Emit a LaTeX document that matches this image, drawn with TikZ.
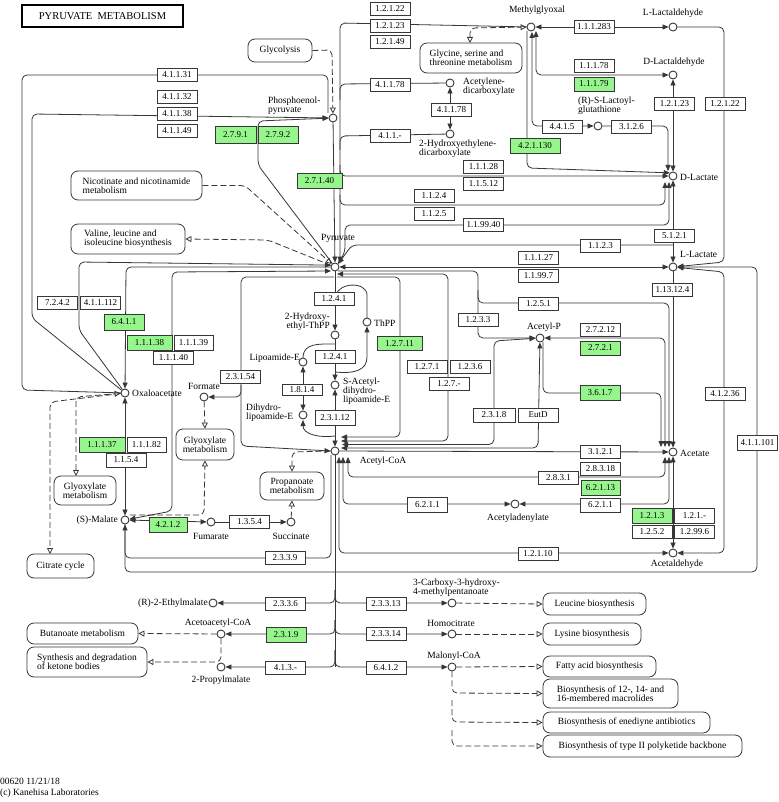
\documentclass[tikz,border=0pt]{standalone}
\usepackage{fontspec}
\setmainfont{Liberation Serif}
\usetikzlibrary{arrows.meta}
\pgfdeclarelayer{bg}
\pgfsetlayers{bg,main}
\definecolor{lc}{RGB}{55,55,55}
\definecolor{kgreen}{RGB}{150,245,140}
\newcommand{\fs}{\fontsize{9.5}{9}\selectfont}
\newcommand{\fe}{\fontsize{9}{9}\selectfont}
\begin{document}
\begin{tikzpicture}[x=1pt,y=-1pt,
  ec/.style={draw=lc, fill=white, minimum width=40pt, minimum height=13pt, inner sep=0pt, font=\fe, line width=0.8pt},
  ecg/.style={ec, fill=kgreen},
  cpd/.style={circle, draw=lc, fill=white, minimum size=8pt, inner sep=0pt, line width=0.9pt},
  lb/.style={inner sep=0pt, font=\fs, align=left},
  mapb/.style={draw=lc, rounded corners=7pt, fill=white, inner sep=2pt, font=\fs, align=center, line width=0.8pt},
  ln/.style={draw=lc, line width=0.8pt, rounded corners=5pt},
  dsh/.style={dash pattern=on 6pt off 3pt},
  ar/.style={-{Triangle[length=6pt,width=5pt]}},
  dar/.style={{Triangle[length=6pt,width=5pt]}-{Triangle[length=6pt,width=5pt]}},
  oar/.style={-{Triangle[open,length=6pt,width=6pt]}},
  doar/.style={{Triangle[open,length=6pt,width=6pt]}-{Triangle[open,length=6pt,width=6pt]}}
]
\useasboundingbox (0,0) rectangle (778,802);
\begin{pgfonlayer}{bg}
\fill[white] (0,0) rectangle (778,802);
\end{pgfonlayer}

% title
\node[draw=black, line width=1.6pt, minimum width=161pt, minimum height=22pt, inner sep=0pt, font=\fontsize{10.5}{11}\selectfont] (title) at (102.5,16) {PYRUVATE~~METABOLISM};

% compounds
\node[cpd] (pep) at (333,118) {};
\node[cpd] (pyr) at (335,267) {};
\node[cpd] (mgo) at (531,27) {};
\node[cpd] (acdc) at (450,83) {};
\node[cpd] (hedc) at (450,134) {};
\node[cpd] (llald) at (673,27) {};
\node[cpd] (dlald) at (673,75) {};
\node[cpd] (lgsh) at (598,126) {};
\node[cpd] (dlac) at (673,176) {};
\node[cpd] (llac) at (673,267) {};
\node[cpd] (acp) at (540,338) {};
\node[cpd] (ace) at (673,452) {};
\node[cpd] (acad) at (515,504) {};
\node[cpd] (acald) at (673,553) {};
\node[cpd] (hthpp) at (335,335) {};
\node[cpd] (thpp) at (367,322) {};
\node[cpd] (lipo) at (303,362) {};
\node[cpd] (sacet) at (335,385) {};
\node[cpd] (dihy) at (303,415) {};
\node[cpd] (accoa) at (335,451) {};
\node[cpd] (succ) at (291,522) {};
\node[cpd] (fum) at (211,522) {};
\node[cpd] (mal) at (125,520) {};
\node[cpd] (oaa) at (125,393) {};
\node[cpd] (form) at (204,397) {};
\node[cpd] (ethm) at (213,603) {};
\node[cpd] (aacoa) at (221,634) {};
\node[cpd] (prom) at (221,667) {};
\node[cpd] (cmp) at (452,603) {};
\node[cpd] (homo) at (452,634) {};
\node[cpd] (mcoa) at (452,667) {};

% compound labels
\node[lb, anchor=north west] (lpep) at (268,97) {Phosphoenol-\\pyruvate};
\node[lb] (lpyr) at (338,238) {Pyruvate};
\node[lb] (lmgo) at (537,10) {Methylglyoxal};
\node[lb, anchor=north west] (lacdc) at (463,78) {Acetylene-\\dicarboxylate};
\node[lb, anchor=north west] (lhedc) at (419,140) {2-Hydroxyethylene-\\dicarboxylate};
\node[lb] (lllald) at (673,13) {L-Lactaldehyde};
\node[lb] (ldlald) at (674,62) {D-Lactaldehyde};
\node[lb, anchor=north west] (llgsh) at (578,97) {(R)-S-Lactoyl-\\glutathione};
\node[lb, anchor=west] (ldlac) at (680,177) {D-Lactate};
\node[lb, anchor=west] (lllac) at (680,254) {L-Lactate};
\node[lb] (lacp) at (544,327) {Acetyl-P};
\node[lb, anchor=west] (lace) at (680,453) {Acetate};
\node[lb] (lacad) at (518,518) {Acetyladenylate};
\node[lb] (lacald) at (677,564) {Acetaldehyde};
\node[lb, anchor=east, align=right] (lhthpp) at (330,322) {2-Hydroxy-\\ethyl-ThPP};
\node[lb, anchor=west] (lthpp) at (374,323) {ThPP};
\node[lb, anchor=east] (llipo) at (300,358) {Lipoamide-E};
\node[lb, anchor=north west] (lsacet) at (343,378) {S-Acetyl-\\dihydro-\\lipoamide-E};
\node[lb, anchor=north west] (ldihy) at (246,404) {Dihydro-\\lipoamide-E};
\node[lb] (laccoa) at (383,461) {Acetyl-CoA};
\node[lb] (lsucc) at (291,536) {Succinate};
\node[lb] (lfum) at (211,536) {Fumarate};
\node[lb, anchor=east] (lmal) at (118,520) {(S)-Malate};
\node[lb, anchor=west] (loaa) at (132,393) {Oxaloacetate};
\node[lb] (lform) at (204,386) {Formate};
\node[lb, anchor=east] (lethm) at (208,603) {(R)-2-Ethylmalate};
\node[lb] (laacoa) at (218,623) {Acetoacetyl-CoA};
\node[lb] (lprom) at (221,680) {2-Propylmalate};
\node[lb, anchor=north west] (lcmp) at (413,579) {3-Carboxy-3-hydroxy-\\4-methylpentanoate};
\node[lb] (lhomo) at (451,623) {Homocitrate};
\node[lb] (lmcoa) at (454,656) {Malonyl-CoA};

% enzymes
\node[ec] (e41131) at (177,75) {4.1.1.31};
\node[ec] (e41132) at (177,97) {4.1.1.32};
\node[ec] (e41138) at (177,114) {4.1.1.38};
\node[ec] (e41149) at (177,131) {4.1.1.49};
\node[ecg, minimum width=41pt, minimum height=17pt] (e2791) at (235.5,134.5) {2.7.9.1};
\node[ecg, minimum width=40pt, minimum height=17pt] (e2792) at (278,134.5) {2.7.9.2};
\node[ecg, minimum width=45pt, minimum height=15pt] (e27140) at (319.5,180.5) {2.7.1.40};
\node[ec] (e12122) at (390,8.5) {1.2.1.22};
\node[ec] (e12123) at (390,25.5) {1.2.1.23};
\node[ec] (e12149) at (390,42) {1.2.1.49};
\node[ec] (e41178a) at (390,84.5) {4.1.1.78};
\node[ec] (e41178b) at (451.5,110) {4.1.1.78};
\node[ec] (e411x) at (390,136) {4.1.1.-};
\node[ec] (e111283) at (594,26.5) {1.1.1.283};
\node[ec] (e11178) at (594,66) {1.1.1.78};
\node[ecg, minimum height=14pt] (e11179) at (594,84) {1.1.1.79};
\node[ec] (e12123b) at (674.5,103.5) {1.2.1.23};
\node[ec] (e12122b) at (725,103.5) {1.2.1.22};
\node[ec] (e4415) at (562,126.5) {4.4.1.5};
\node[ec] (e3126) at (631.5,126.5) {3.1.2.6};
\node[ecg, minimum width=50pt, minimum height=15pt] (e421130) at (535,145.5) {4.2.1.130};
\node[ec] (e11128) at (483.5,166.5) {1.1.1.28};
\node[ec] (e11512) at (483.5,184) {1.1.5.12};
\node[ec] (e1124) at (434,196) {1.1.2.4};
\node[ec] (e1125) at (434,214) {1.1.2.5};
\node[ec] (e119940) at (483.5,225) {1.1.99.40};
\node[ec] (e1123) at (600.5,245.5) {1.1.2.3};
\node[ec] (e51121) at (674.5,236) {5.1.2.1};
\node[ec] (e11127) at (538.5,258) {1.1.1.27};
\node[ec] (e11997) at (538.5,276) {1.1.99.7};
\node[ec] (e131224) at (672.5,290) {1.13.12.4};
\node[ec] (e1251) at (538.5,303.5) {1.2.5.1};
\node[ec] (e1233) at (478,320) {1.2.3.3};
\node[ec] (e27212) at (600.5,329.5) {2.7.2.12};
\node[ecg, minimum height=14pt] (e2721) at (600.5,348) {2.7.2.1};
\node[ec] (e1241a) at (334,299) {1.2.4.1};
\node[ec] (e1241b) at (335,356.5) {1.2.4.1};
\node[ecg, minimum width=45pt, minimum height=14pt] (e12711) at (399.5,343.5) {1.2.7.11};
\node[ec] (e1271) at (427,367) {1.2.7.1};
\node[ec] (e1236) at (470,367) {1.2.3.6};
\node[ec] (e127x) at (449,384) {1.2.7.-};
\node[ec, minimum width=42pt, minimum height=14pt] (e2318) at (494,415) {2.3.1.8};
\node[ec, minimum height=14pt] (eEutD) at (538,415) {EutD};
\node[ecg, minimum height=15pt] (e3617) at (600,392.5) {3.6.1.7};
\node[ec] (e41236) at (725,393.5) {4.1.2.36};
\node[ec, minimum height=15pt] (e411101) at (757.5,442.5) {4.1.1.101};
\node[ec] (e3121) at (600.5,451.5) {3.1.2.1};
\node[ec] (e28318) at (600.5,469) {2.8.3.18};
\node[ecg, minimum width=39pt, minimum height=15pt] (e62113) at (600.5,487.5) {6.2.1.13};
\node[ec] (e2831) at (558.5,477.5) {2.8.3.1};
\node[ec, minimum height=14pt] (e6211b) at (600.5,505) {6.2.1.1};
\node[ec, minimum height=15pt] (e6211a) at (427.5,504.5) {6.2.1.1};
\node[ecg, minimum height=15pt] (e1213) at (652,515.5) {1.2.1.3};
\node[ec, minimum height=15pt] (e121x) at (694.5,515.5) {1.2.1.-};
\node[ec] (e1252) at (652,531.5) {1.2.5.2};
\node[ec] (e12996) at (694.5,531.5) {1.2.99.6};
\node[ec] (e12110) at (538,553.5) {1.2.1.10};
\node[ec] (e7242) at (57.5,302.5) {7.2.4.2};
\node[ec] (e411112) at (100.5,302.5) {4.1.1.112};
\node[ecg, minimum height=16pt] (e6411) at (124,322) {6.4.1.1};
\node[ecg, minimum width=45pt, minimum height=15pt] (e11138) at (149.5,342.5) {1.1.1.38};
\node[ec, minimum width=39pt, minimum height=15pt] (e11139) at (193.5,342.5) {1.1.1.39};
\node[ec] (e11140) at (173.5,357.5) {1.1.1.40};
\node[ec] (e23154) at (240.5,376.5) {2.3.1.54};
\node[ec, minimum height=11pt] (e1814) at (302,389.5) {1.8.1.4};
\node[ec, minimum height=15pt] (e23112) at (335,417.5) {2.3.1.12};
\node[ecg, minimum width=46pt, minimum height=15pt] (e11137) at (102,444.5) {1.1.1.37};
\node[ec, minimum width=39pt, minimum height=15pt] (e11182) at (146.5,444.5) {1.1.1.82};
\node[ec, minimum height=14pt] (e1154) at (126,460) {1.1.5.4};
\node[ecg, minimum width=38pt, minimum height=15pt] (e4212) at (168,524.5) {4.2.1.2};
\node[ec] (e1354) at (249.5,521.5) {1.3.5.4};
\node[ec] (e2339) at (285,558) {2.3.3.9};
\node[ec] (e2336) at (285.5,603.5) {2.3.3.6};
\node[ecg, minimum height=15pt] (e2319) at (286,634.5) {2.3.1.9};
\node[ec] (e413x) at (285.5,667.5) {4.1.3.-};
\node[ec] (e23313) at (386,603.5) {2.3.3.13};
\node[ec] (e23314) at (386,633.5) {2.3.3.14};
\node[ec] (e6412) at (386,667.5) {6.4.1.2};

% maps
\node[mapb, minimum width=64pt, minimum height=23pt] (glyc) at (280,50.5) {Glycolysis};
\node[mapb, minimum width=102pt, minimum height=30pt, align=left] (glyser) at (471,58) {Glycine, serine and\\threonine metabolism};
\node[mapb, minimum width=131pt, minimum height=29pt, align=left] (nic) at (136.5,185.5) {Nicotinate and nicotinamide\\metabolism};
\node[mapb, minimum width=114pt, minimum height=30pt, align=left] (val) at (128,239) {Valine, leucine and\\isoleucine biosynthesis};
\node[mapb, minimum width=64pt, minimum height=28pt] (prop) at (292,486) {Propanoate\\metabolism};
\node[mapb, minimum width=58pt, minimum height=31pt] (glyM) at (205,444.5) {Glyoxylate\\metabolism};
\node[mapb, minimum width=62pt, minimum height=29pt] (glyL) at (85,490.5) {Glyoxylate\\metabolism};
\node[mapb, minimum width=67pt, minimum height=24pt] (cit) at (60.5,566) {Citrate cycle};
\node[mapb, minimum width=111pt, minimum height=21pt] (but) at (82.5,633.5) {Butanoate metabolism};
\node[mapb, minimum width=120pt, minimum height=30pt, align=left] (ket) at (87,662) {Synthesis and degradation\\of ketone bodies};
\node[mapb, minimum width=103pt, minimum height=22pt] (leu) at (594.5,604) {Leucine biosynthesis};
\node[mapb, minimum width=98pt, minimum height=22pt] (lys) at (592,634) {Lysine biosynthesis};
\node[mapb, minimum width=113pt, minimum height=21pt] (fat) at (599.5,666.5) {Fatty acid biosynthesis};
\node[mapb, minimum width=135pt, minimum height=29pt, align=left] (mac) at (610.5,693.5) {Biosynthesis of 12-, 14- and\\16-membered macrolides};
\node[mapb, minimum width=167pt, minimum height=21pt] (ene) at (626.5,722.5) {Biosynthesis of enediyne antibiotics};
\node[mapb, minimum width=199pt, minimum height=22pt] (typ) at (642.5,746) {Biosynthesis of type II polyketide backbone};

% footer
\node[lb, anchor=west] (f1) at (0,781) {00620 11/21/18};
\node[lb, anchor=west] (f2) at (0,793) {(c) Kanehisa Laboratories};

\begin{pgfonlayer}{bg}
% PEP region
\draw[ln] (328,113) -- (328,75) -- (22,75) -- (22,390) -- (oaa);
\draw[ln, ar] (oaa) -- (32,318) -- (32,114) -- (pep);
\draw[ln, ar] (pyr) -- (258,165) -- (258,121) -- (pep);
\draw[ln, ar] (pep) -- (pyr);
\draw[ln, dsh, oar] (glyc.east) -- (332,50) -- (pep);
% methylglyoxal -> pyruvate
\draw[ln, ar] (mgo) -- (340,23) -- (340,262.5);
\draw[ln] (acdc) -- (340,84) -- (340,100);
\draw[ln] (hedc) -- (340,136) -- (340,150);
\draw[ln, dar] (acdc) -- (hedc);
\draw[ln, dsh, doar] (470,43) -- (470,28) -- (mgo);
% to D-lactate
\draw[ln, ar] (340,165) -- (340,176) -- (dlac.west);
\draw[ln, ar] (527,31) -- (527,168) -- (dlac.north west);
\draw[ln, ar] (340,195) -- (340,205) -- (665,205) -- (665,182);
\draw[ln, dar] (pyr.45) -- (345,252) -- (345,225) -- (669,225) -- (669,182);
\draw[ln, dar] (dlac) -- (llac);
\draw[ln, ar] (673,245) -- (352,245) -- (pyr.45);
\draw[ln, dar] (pyr.east) -- (llac.west);
% methylglyoxal branch
\draw[ln, dar] (mgo) -- (llald);
\draw[ln, dar] (536,31) -- (536,75) -- (dlald);
\draw[ln, dar] (532,32) -- (532,126) -- (lgsh);
\draw[ln, ar] (lgsh) -- (668,126) -- (668,171);
\draw[ln, dar] (dlald) -- (dlac);
\draw[ln, ar] (llald) -- (724,27) -- (724,262) -- (llac);
% pyruvate right -> acetyl-P / acetyl-CoA / acetate
\draw[ln, ar] (338,271) -- (478,271) -- (478,338) -- (acp);
\draw[ln, ar] (478,290) -- (478,303) -- (669,303) -- (669,447);
\draw[ln, dar] (337,274) -- (448,274) -- (448,441) -- (341,441);
\draw[ln, ar] (337,277) -- (400,277) -- (400,437) -- (341,437);
\draw[ln, dar] (342,444.5) -- (494,444.5) -- (494,341) -- (acp);
\draw[ln, dar] (acp) -- (538,448) -- (341,448);
\draw[ln, ar] (accoa) -- (ace);
\draw[ln, dar] (acp) -- (665,338) -- (665,447);
\draw[ln, ar] (543,342) -- (543,393) -- (661,393) -- (661,447);
\draw[ln, ar] (llac) -- (ace);
\draw[ln, dar] (348,457) -- (348,477) -- (665,477) -- (665,457);
\draw[ln, dar] (343,457) -- (343,504) -- (acad);
\draw[ln, dar] (acad) -- (669,504) -- (669,457);
\draw[ln, dar] (ace) -- (acald);
\draw[ln, dar] (339,457) -- (339,553) -- (acald);
\draw[ln, dar] (llac) -- (724,272) -- (724,553) -- (acald);
\draw[ln, ar] (mal) -- (125,572) -- (757,572) -- (757,267) -- (llac);
\draw[ln, ar] (331,455) -- (331,558) -- (125,558) -- (mal);
% pyruvate left
\draw[ln, ar] (oaa) -- (79,330) -- (79,262) -- (pyr.155);
\draw[ln, ar] (pyr.west) -- (126,267) -- (oaa);
\draw[ln, dar] (331,271) -- (172,272) -- (172,511) -- (mal);
\draw[ln, ar] (334,277) -- (241,277) -- (241,446) -- (accoa.west);
\draw[ln, ar] (241,385) -- (241,397) -- (form);
\draw[ln, dsh, oar] (nic.east) -- (245,185.5) -- (pyr);
\draw[ln, dsh, oar] (pyr) -- (268,240) -- (val.east);
% PDH complex
\draw[ln, ar] (pyr) -- (hthpp);
\draw[ln, ar] (hthpp) -- (sacet);
\draw[ln] (367,318) -- (367,300) .. controls (367,281) and (335,281) .. (335,300);
\draw[ln, ar] (335,372) .. controls (355,374) and (367,370) .. (367,352) -- (thpp);
\draw[ln] (303,358) .. controls (303,343) and (318,344) .. (335,344);
\draw[ln, dar] (lipo) -- (dihy);
\draw[ln, dar] (sacet) -- (accoa);
\draw[ln, ar] (335,436) .. controls (318,438) and (303,434) .. (303,420);
% TCA side
\draw[ln, dar] (oaa) -- (mal);
\draw[ln, dar] (mal) -- (fum);
\draw[ln, ar] (fum) -- (succ);
\draw[ln, dsh, oar] (succ) -- (prop.south);
\draw[ln, dsh, oar] (accoa.west) -- (292,452) -- (prop.north);
\draw[ln, dsh, oar] (form) -- (glyM.north);
\draw[ln, dsh, oar] (130,515) -- (204,515) -- (glyM.south);
\draw[ln, dsh, doar] (76,476) -- (76,397) -- (oaa);
\draw[ln, dsh, oar] (oaa) -- (50,402) -- (50,554);
% bottom trunk
\draw[ln] (335,455) -- (335,667);
\draw[ln, ar] (335,590) -- (335,603) -- (ethm);
\draw[ln, ar] (335,590) -- (335,603) -- (cmp);
\draw[ln, ar] (335,620) -- (335,634) -- (aacoa);
\draw[ln, ar] (335,620) -- (335,634) -- (homo);
\draw[ln, ar] (335,650) -- (335,667) -- (prom);
\draw[ln, ar] (335,650) -- (335,667) -- (mcoa);
\draw[ln, dsh, oar] (cmp) -- (leu.west);
\draw[ln, dsh, oar] (homo) -- (lys.west);
\draw[ln, dsh, oar] (mcoa) -- (fat.west);
\draw[ln, dsh, oar] (mcoa) -- (452,693) -- (mac.west);
\draw[ln, dsh, oar] (452,700) -- (452,722) -- (ene.west);
\draw[ln, dsh, oar] (452,730) -- (452,746) -- (typ.west);
\draw[ln, dsh, oar] (aacoa) -- (but.east);
\draw[ln, dsh, oar] (aacoa) -- (221,662) -- (ket.east);
\end{pgfonlayer}
\end{tikzpicture}
\end{document}
